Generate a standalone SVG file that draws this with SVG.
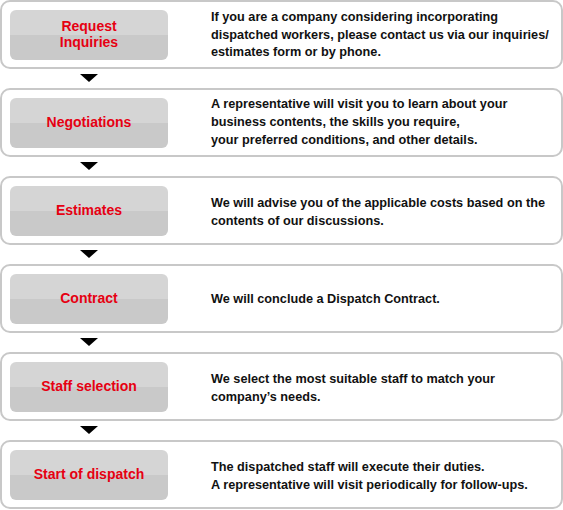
<svg xmlns="http://www.w3.org/2000/svg" width="563" height="510" viewBox="0 0 563 510">
<defs>
<linearGradient id="g" x1="0" y1="0" x2="0" y2="1">
<stop offset="0" stop-color="#d5d5d5"/><stop offset="0.5" stop-color="#d5d5d5"/><stop offset="0.5" stop-color="#c9c9c9"/><stop offset="1" stop-color="#c9c9c9"/>
</linearGradient>
</defs>
<style>
.box{fill:#fff;stroke:#c8c8c8;stroke-width:2}
.lab{fill:url(#g)}
.t{font-family:"Liberation Sans",Arial,sans-serif;font-weight:bold;font-size:14px;fill:#e60012;text-anchor:middle}
.d{font-family:"Liberation Sans",Arial,sans-serif;font-weight:bold;font-size:12.7px;fill:#111}
.arr{fill:#000}
</style>
<g id="connectors">
<polygon class="arr" points="80,74 98,74 89,82"/>
<polygon class="arr" points="80,162 98,162 89,170"/>
<polygon class="arr" points="80,250 98,250 89,258"/>
<polygon class="arr" points="80,338 98,338 89,346"/>
<polygon class="arr" points="80,426 98,426 89,434"/>
</g>
<g id="n1">
<rect class="box" x="1" y="1" width="561" height="67" rx="9"/>
<rect class="lab" x="10" y="10" width="158" height="50" rx="6"/>
<text class="t" x="89" y="31">Request</text><text class="t" x="89" y="47">Inquiries</text>
<text class="d" x="211" y="21">If you are a company considering incorporating</text>
<text class="d" x="211" y="38.5">dispatched workers, please contact us via our inquiries/</text>
<text class="d" x="211" y="56">estimates form or by phone.</text>
</g>
<g id="n2">
<rect class="box" x="1" y="89" width="561" height="67" rx="9"/>
<rect class="lab" x="10" y="98" width="158" height="50" rx="6"/>
<text class="t" x="89" y="127">Negotiations</text>
<text class="d" x="211" y="108">A representative will visit you to learn about your</text>
<text class="d" x="211" y="126">business contents, the skills you require,</text>
<text class="d" x="211" y="144">your preferred conditions, and other details.</text>
</g>
<g id="n3">
<rect class="box" x="1" y="177" width="561" height="67" rx="9"/>
<rect class="lab" x="10" y="186" width="158" height="50" rx="6"/>
<text class="t" x="89" y="215">Estimates</text>
<text class="d" x="211" y="207">We will advise you of the applicable costs based on the</text>
<text class="d" x="211" y="225">contents of our discussions.</text>
</g>
<g id="n4">
<rect class="box" x="1" y="265" width="561" height="67" rx="9"/>
<rect class="lab" x="10" y="274" width="158" height="50" rx="6"/>
<text class="t" x="89" y="303">Contract</text>
<text class="d" x="211" y="303">We will conclude a Dispatch Contract.</text>
</g>
<g id="n5">
<rect class="box" x="1" y="353" width="561" height="67" rx="9"/>
<rect class="lab" x="10" y="362" width="158" height="50" rx="6"/>
<text class="t" x="89" y="391">Staff selection</text>
<text class="d" x="211" y="383">We select the most suitable staff to match your</text>
<text class="d" x="211" y="401">company’s needs.</text>
</g>
<g id="n6">
<rect class="box" x="1" y="441" width="561" height="67" rx="9"/>
<rect class="lab" x="10" y="450" width="158" height="50" rx="6"/>
<text class="t" x="89" y="479">Start of dispatch</text>
<text class="d" x="211" y="471">The dispatched staff will execute their duties.</text>
<text class="d" x="211" y="489">A representative will visit periodically for follow-ups.</text>
</g>
</svg>
